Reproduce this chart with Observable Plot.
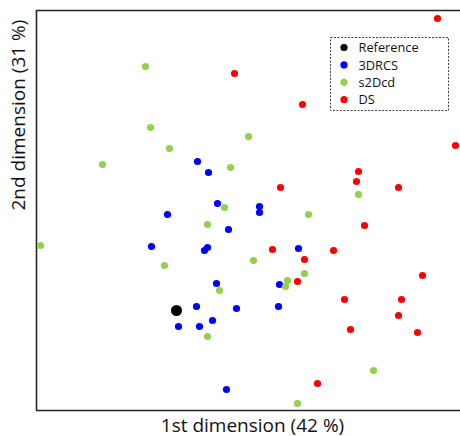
<!DOCTYPE html>
<html>
<head>
<meta charset="utf-8">
<script src="https://cdn.jsdelivr.net/npm/d3@7"></script>
<script src="https://cdn.jsdelivr.net/npm/@observablehq/plot@0.6"></script>
<style>
  html, body { margin: 0; padding: 0; background: #fff; }
  #chart svg { display: block; }
</style>
</head>
<body>
<div id="chart"></div>
<script>
// Values (arbitrary units on both dimensions)
const groups = ["Reference", "3DRCS", "s2Dcd", "DS"];
const groupColors = ["#000000", "#0000ff", "#92d050", "#ff0000"];

const referenceX = [140];
const referenceY = [100];

const rcsX = [161, 172, 181, 131, 223, 223, 192, 115, 168, 171, 180, 160, 142, 163, 176, 190, 262, 243, 200, 242];
const rcsY = [249, 238, 207, 196, 204, 198, 181, 164, 160, 163, 127, 104, 84, 84, 90, 21, 162, 126, 102, 104];

const s2dX = [109, 114, 133, 66, 194, 188, 212, 322, 272, 171, 4, 128, 183, 171, 217, 268, 251, 249, 337, 261];
const s2dY = [344, 283, 262, 246, 243, 203, 274, 216, 196, 186, 165, 145, 120, 74, 150, 137, 130, 124, 40, 7];

const dsX = [401, 198, 266, 419, 322, 320, 244, 362, 328, 236, 297, 268, 261, 386, 308, 365, 362, 314, 381, 281];
const dsY = [392, 337, 306, 265, 239, 229, 223, 223, 185, 161, 160, 151, 129, 135, 111, 111, 95, 81, 78, 27];

const xLabel = "1st dimension (42 %)";
const yLabel = "2nd dimension (31 %)";

const toRows = (xs, ys, g) => xs.map((x, i) => ({x, y: ys[i], group: g}));
const data = [
  ...toRows(rcsX, rcsY, "3DRCS"),
  ...toRows(s2dX, s2dY, "s2Dcd"),
  ...toRows(dsX, dsY, "DS")
];
const ref = toRows(referenceX, referenceY, "Reference");

const font = "'Open Sans', 'DejaVu Sans', sans-serif";

const plot = Plot.plot({
  width: 460,
  height: 436,
  marginLeft: 36,
  marginRight: 0,
  marginTop: 10,
  marginBottom: 26,
  style: {fontFamily: font, background: "#fff"},
  x: {domain: [0, 424], axis: null},
  y: {domain: [0, 400], axis: null},
  color: {domain: groups, range: groupColors},
  marks: [
    Plot.ruleY([0, 400], {stroke: "#262626", strokeWidth: 1.6}),
    Plot.ruleX([0], {stroke: "#262626", strokeWidth: 1.6}),
    Plot.dot(data, {x: "x", y: "y", fill: "group", r: 3.6}),
    Plot.dot(ref, {x: "x", y: "y", fill: "group", r: 5.5}),
    Plot.text([xLabel], {frameAnchor: "bottom", dy: 21, dx: 4, fontSize: 19, fill: "#111", text: d => d}),
    Plot.text([yLabel], {frameAnchor: "left", dx: -18, rotate: -90, fontSize: 19, fill: "#111", text: d => d})
  ]
});
document.getElementById("chart").appendChild(plot);

// Legend box (top right, inside the plot)
const svg = d3.select(plot);
const lg = svg.append("g").attr("font-family", font).attr("text-anchor", "start");
lg.append("rect")
  .attr("x", 330.5).attr("y", 37.5)
  .attr("width", 118).attr("height", 73)
  .attr("fill", "#fff")
  .attr("stroke", "#444")
  .attr("stroke-width", 1)
  .attr("stroke-dasharray", "2,1.5");
groups.forEach((g, i) => {
  const cy = 47.5 + i * 17.4;
  lg.append("circle").attr("cx", 344).attr("cy", cy).attr("r", 3.6).attr("fill", groupColors[i]);
  lg.append("text").attr("x", 358.5).attr("y", cy).attr("dy", "0.36em")
    .attr("font-size", 12.8).attr("fill", "#111").text(g);
});
</script>
</body>
</html>
